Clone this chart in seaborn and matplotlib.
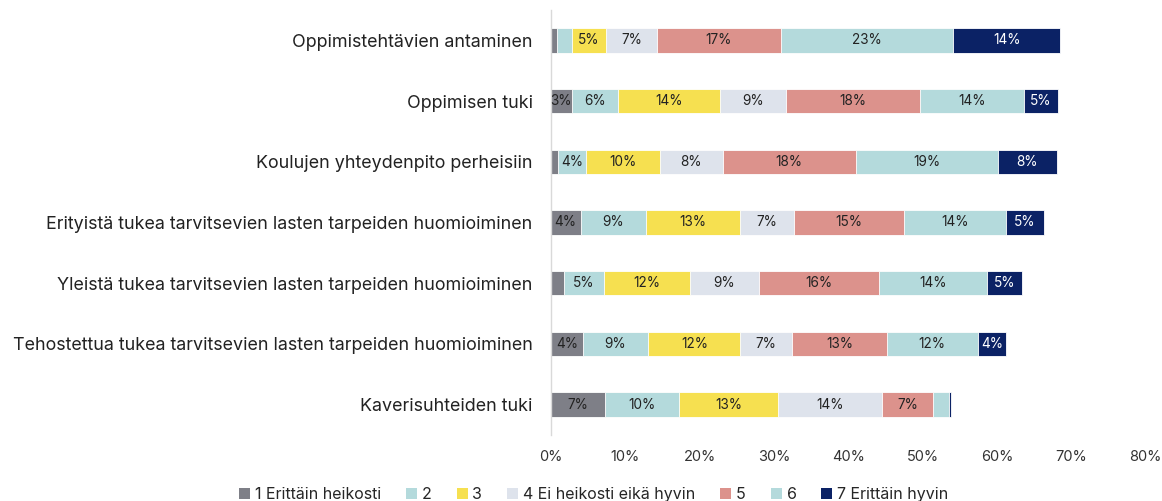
import matplotlib
matplotlib.use("Agg")
import matplotlib.pyplot as plt
from matplotlib.patches import Patch
import seaborn as sns
import numpy as np
import pandas as pd

categories = [
    "Oppimistehtävien antaminen",
    "Oppimisen tuki",
    "Koulujen yhteydenpito perheisiin",
    "Erityistä tukea tarvitsevien lasten tarpeiden huomioiminen",
    "Yleistä tukea tarvitsevien lasten tarpeiden huomioiminen",
    "Tehostettua tukea tarvitsevien lasten tarpeiden huomioiminen",
    "Kaverisuhteiden tuki",
]
series_names = ["1 Erittäin heikosti", "2", "3", "4 Ei heikosti eikä hyvin", "5", "6", "7 Erittäin hyvin"]
s1 = [0.8, 2.8, 1.0, 4.0, 1.8, 4.3, 7.3]
s2 = [2.0, 6.3, 3.8, 8.8, 5.3, 8.8, 9.9]
s3 = [4.6, 13.7, 9.9, 12.7, 11.6, 12.4, 13.4]
s4 = [6.9, 8.8, 8.4, 7.2, 9.3, 6.9, 14.0]
s5 = [16.6, 18.1, 17.9, 14.8, 16.2, 12.8, 6.8]
s6 = [23.2, 13.9, 19.1, 13.7, 14.4, 12.2, 2.1]
s7 = [14.4, 4.6, 8.0, 5.1, 4.8, 3.8, 0.3]
series = [s1, s2, s3, s4, s5, s6, s7]
xticks = [0, 10, 20, 30, 40, 50, 60, 70, 80]

colors = ["#7E7F87", "#B4DADC", "#F6E050", "#DEE3EC", "#DC928C", "#B4DADC", "#0B2265"]
text_colors = ["#222222"] * 6 + ["#FFFFFF"]

sns.set_theme(style="white")
plt.rcParams["font.family"] = ["Inter", "DejaVu Sans"]

fig = plt.figure(figsize=(11.62, 5.01), dpi=100)
ax = fig.add_axes([0.474, 0.132, 0.512, 0.848])

vals = np.array(series)
cum = np.cumsum(vals, axis=0)
for k in range(len(series) - 1, -1, -1):
    df = pd.DataFrame({"cat": categories, "val": cum[k]})
    sns.barplot(data=df, x="val", y="cat", orient="h", color=colors[k], width=0.40,
                saturation=1, ax=ax, edgecolor="white", linewidth=0.6)

for k in range(len(series)):
    for i, cat in enumerate(categories):
        v = vals[k, i]
        if v >= 2.5:
            center = cum[k, i] - v / 2
            ax.text(center, i, f"{v:.0f}%", ha="center", va="center",
                    fontsize=9.8, color=text_colors[k])

ax.set_xlim(0, 80)
ax.set_ylim(len(categories) - 0.5, -0.5)
ax.set_xticks(xticks)
ax.set_xticklabels([f"{t}%" for t in xticks], fontsize=10.5, color="#333333")
ax.tick_params(axis="y", labelsize=12.9, colors="#222222", length=0, pad=13)
ax.tick_params(axis="x", length=0, pad=11)
ax.set_xlabel("")
ax.set_ylabel("")
for s in ["top", "right", "bottom"]:
    ax.spines[s].set_visible(False)
ax.spines["left"].set_color("#D9D9D9")
ax.spines["left"].set_linewidth(1.0)
ax.grid(False)

handles = [Patch(facecolor=c, edgecolor="none") for c in colors]
fig.legend(handles, series_names, loc="center", bbox_to_anchor=(0.511, 0.012), ncol=7,
           frameon=False, fontsize=11.5, handlelength=0.7, handleheight=0.7,
           handletextpad=0.3, columnspacing=1.55)

fig.savefig("out.png", dpi=100)
